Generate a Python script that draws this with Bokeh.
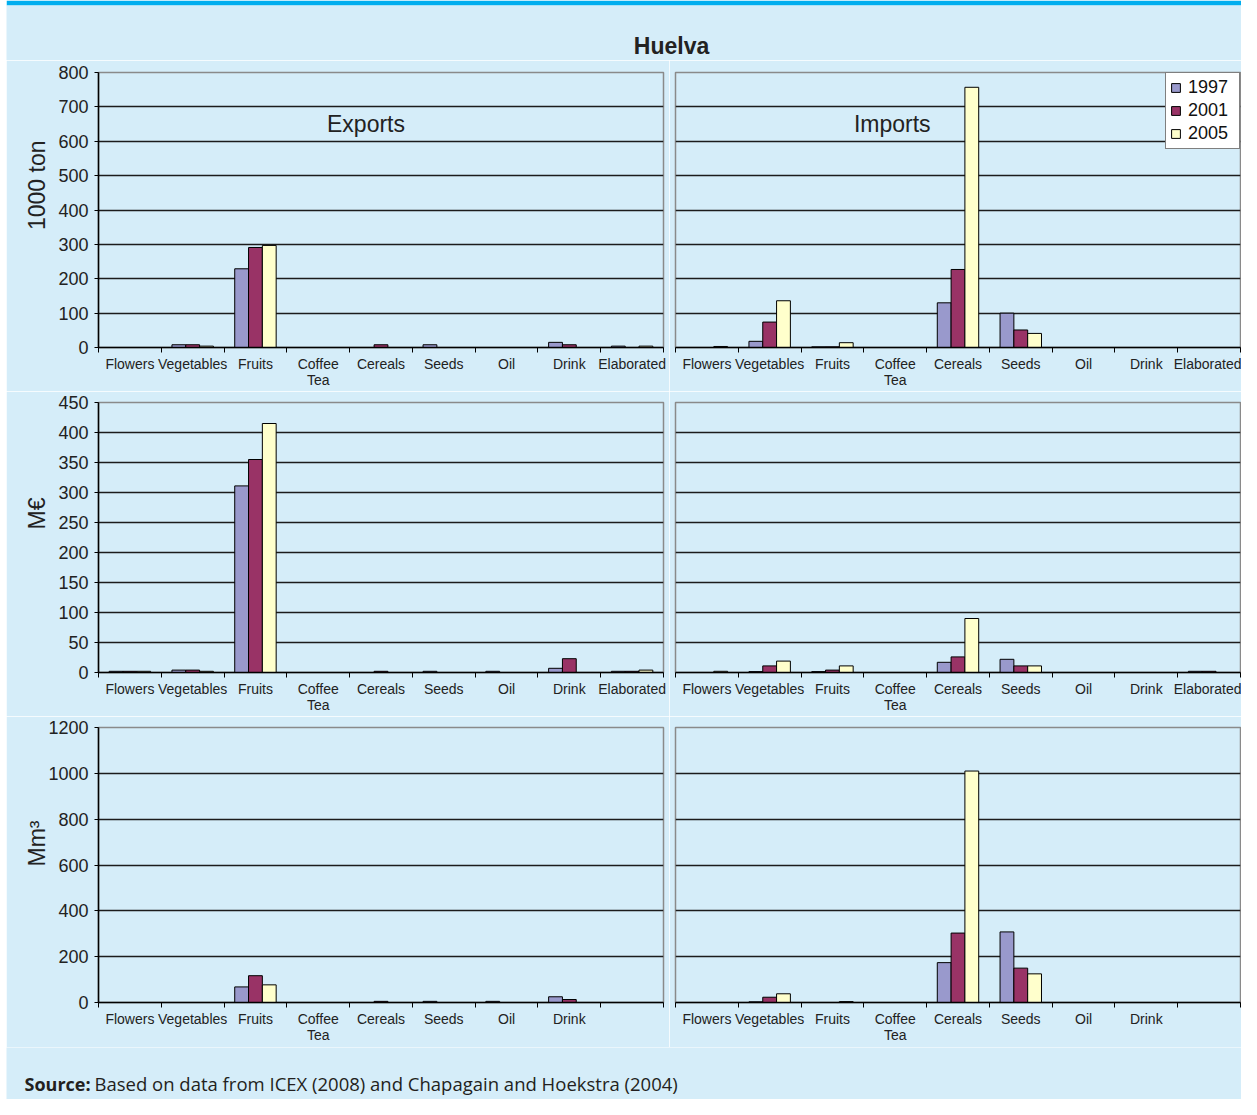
from bokeh.plotting import figure
from bokeh.models import ColumnDataSource, Range1d, LinearAxis, FixedTicker, Title, Spacer
from bokeh.transform import dodge
from bokeh.layouts import column, row
from bokeh.core.properties import value
from bokeh.embed import file_html
from bokeh.resources import INLINE

# ---------------- data ----------------
categories = ["Flowers", "Vegetables", "Fruits", "Coffee Tea", "Cereals",
              "Seeds", "Oil", "Drink", "Elaborated"]
water_categories = ["Flowers", "Vegetables", "Fruits", "Coffee Tea", "Cereals",
                    "Seeds", "Oil", "Drink"]
years = ["1997", "2001", "2005"]

# 1000 ton
exp_ton_1997 = [0, 8, 229, 0, 0, 8, 0, 15, 4]
exp_ton_2001 = [0, 8, 291, 0, 8, 0, 0, 8, 0]
exp_ton_2005 = [0, 4, 297, 0, 0, 0, 0, 0, 4]
imp_ton_1997 = [0, 18, 2, 0, 130, 100, 0, 0, 0]
imp_ton_2001 = [0, 74, 2, 0, 227, 51, 0, 0, 0]
imp_ton_2005 = [3, 136, 14, 0, 757, 41, 0, 0, 0]

# M EUR
exp_eur_1997 = [2, 4, 311, 0, 0, 2, 2, 7, 2]
exp_eur_2001 = [2, 4, 355, 0, 2, 0, 0, 23, 2]
exp_eur_2005 = [2, 2, 415, 0, 0, 0, 0, 0, 4]
imp_eur_1997 = [0, 1.5, 1.5, 0, 17, 22, 0, 0, 2]
imp_eur_2001 = [0, 11, 4, 0, 26, 11, 0, 0, 2]
imp_eur_2005 = [2, 19, 11, 0, 90, 11, 0, 0, 0]

# Mm3
exp_w_1997 = [0, 0, 68, 0, 0, 5, 5, 25]
exp_w_2001 = [0, 0, 117, 0, 5, 0, 0, 13]
exp_w_2005 = [0, 0, 77, 0, 0, 0, 0, 0]
imp_w_1997 = [0, 3, 0, 0, 174, 308, 0, 0]
imp_w_2001 = [0, 23, 0, 0, 303, 150, 0, 0]
imp_w_2005 = [0, 38, 4, 0, 1010, 125, 0, 0]

ticks_ton = [0, 100, 200, 300, 400, 500, 600, 700, 800]
ticks_eur = [0, 50, 100, 150, 200, 250, 300, 350, 400, 450]
ticks_w = [0, 200, 400, 600, 800, 1000, 1200]

# ---------------- style ----------------
BG = "#D5EDF9"
CYAN = "#00AEEF"
TXT = "#222222"
FONT = "Liberation Sans"
COLORS = ["#9999CC", "#993366", "#FFFFCC"]
BAR_W = 0.22
OFFSETS = [-BAR_W, 0.0, BAR_W]
N_SLOTS = len(categories)


def panel(cats, vals, yticks, side, top, bottom, fh=275, ylabel=None, ylabel_top=0,
          ylabel_standoff=6, title=None, title_cat=None, title_off=0, title_y=None,
          legend=False):
    left = side == "left"
    p = figure(x_range=Range1d(0, N_SLOTS), y_range=Range1d(yticks[0], yticks[-1]),
               frame_width=565, frame_height=fh,
               min_border_left=92 if left else 6, min_border_right=6 if left else 1,
               min_border_top=top, min_border_bottom=bottom,
               x_axis_location=None, y_axis_location=None,
               output_backend="svg", toolbar_location=None,
               background_fill_color=BG, border_fill_color=BG,
               outline_line_color="#8a8a8a", outline_line_width=1.5)
    p.xgrid.grid_line_color = None
    p.ygrid.ticker = FixedTicker(ticks=yticks[1:-1])
    p.ygrid.grid_line_color = "#1c1c1c"
    p.ygrid.grid_line_width = 1.5

    if left:
        yax = LinearAxis(ticker=FixedTicker(ticks=yticks),
                         major_label_text_font=FONT, major_label_text_font_size="18px",
                         major_label_text_color=TXT, major_label_standoff=6,
                         major_tick_in=0, major_tick_out=4, major_tick_line_color="black",
                         minor_tick_line_color=None,
                         axis_line_color="black", axis_line_width=1.5)
        p.add_layout(yax, "left")
        p.add_layout(Title(text=ylabel, align="right", offset=ylabel_top,
                           standoff=ylabel_standoff,
                           text_font=FONT, text_font_size="23px",
                           text_font_style="normal", text_color=TXT), "left")

    centers = [i + 0.5 for i in range(len(cats))]
    labels = {c: n.replace(" ", "\n") for c, n in zip(centers, cats)}
    xax = LinearAxis(ticker=FixedTicker(ticks=centers, minor_ticks=list(range(N_SLOTS + 1))),
                     axis_line_color="black", axis_line_width=1.5,
                     major_tick_line_color=None, major_tick_in=0, major_tick_out=2,
                     minor_tick_line_color="black", minor_tick_in=0, minor_tick_out=5,
                     major_label_standoff=3,
                     major_label_text_font=FONT, major_label_text_font_size="14px",
                     major_label_text_line_height=1.05,
                     major_label_text_color=TXT, major_label_overrides=labels)
    p.add_layout(xax, "below")

    data = {"x": centers}
    for yr, v in zip(years, vals):
        data["y" + yr] = v
    src = ColumnDataSource(data)
    for yr, off, col in zip(years, OFFSETS, COLORS):
        kw = dict(legend_label=yr) if legend else {}
        p.vbar(x=dodge("x", off), top="y" + yr, bottom=0, width=BAR_W,
               source=src, fill_color=col, line_color="black", line_width=1, **kw)

    if title:
        p.text(x=[categories.index(title_cat) + 0.5], y=[title_y], text=[title],
               x_offset=title_off, text_align="center", text_baseline="middle",
               text_font=value(FONT), text_font_size="23px", text_color=TXT)

    if legend:
        lg = p.legend[0]
        lg.location = "top_right"
        lg.margin = 0
        lg.border_line_color = "black"
        lg.border_line_width = 1
        lg.background_fill_color = "white"
        lg.background_fill_alpha = 1
        lg.label_text_font = FONT
        lg.label_text_font_size = "18px"
        lg.label_text_color = "#111111"
        lg.glyph_width = 11
        lg.glyph_height = 11
        lg.label_standoff = 7
        lg.label_width = 47
        lg.label_height = 20
        lg.padding = 4
        lg.spacing = 2
    return p


# ---------------- panels ----------------
p1 = panel(categories, [exp_ton_1997, exp_ton_2001, exp_ton_2005], ticks_ton, "left",
           top=12, bottom=42, ylabel="1000 ton", ylabel_top=68, ylabel_standoff=12,
           title="Exports", title_cat="Cereals", title_off=-15, title_y=650)
p2 = panel(categories, [imp_ton_1997, imp_ton_2001, imp_ton_2005], ticks_ton, "right",
           top=12, bottom=42, title="Imports", title_cat="Coffee Tea", title_off=-3,
           title_y=650, legend=True)
p3 = panel(categories, [exp_eur_1997, exp_eur_2001, exp_eur_2005], ticks_eur, "left",
           top=11, bottom=42, fh=270, ylabel="M€", ylabel_top=95, ylabel_standoff=12)
p4 = panel(categories, [imp_eur_1997, imp_eur_2001, imp_eur_2005], ticks_eur, "right",
           top=11, bottom=42, fh=270)
p5 = panel(water_categories, [exp_w_1997, exp_w_2001, exp_w_2005], ticks_w, "left",
           top=11, bottom=45, ylabel="Mm³", ylabel_top=93, ylabel_standoff=-8)
p6 = panel(water_categories, [imp_w_1997, imp_w_2001, imp_w_2005], ticks_w, "right",
           top=11, bottom=45)

# header
W = 1235
h = figure(width=W, height=60, x_range=Range1d(0, W), y_range=Range1d(0, 55),
           min_border_top=5, min_border_left=0, min_border_right=0, min_border_bottom=0,
           x_axis_location=None, y_axis_location=None, toolbar_location=None,
           output_backend="svg", background_fill_color=BG, border_fill_color=CYAN,
           outline_line_color=None)
h.grid.visible = False
h.text(x=[665], y=[15], text=["Huelva"], text_align="center", text_baseline="middle",
       text_font=value(FONT), text_font_style="bold", text_font_size="23px",
       text_color=TXT)

# footer
f = figure(width=W, height=52, x_range=Range1d(0, W), y_range=Range1d(0, 52),
           min_border=0, x_axis_location=None, y_axis_location=None,
           toolbar_location=None, output_backend="svg", background_fill_color=BG,
           border_fill_color=BG, outline_line_color=None)
f.grid.visible = False
f.text(x=[18], y=[16], text=["Source:"], text_align="left", text_baseline="middle",
       text_font=value("Open Sans"), text_font_style="bold", text_font_size="18px",
       text_color="#231F20")
f.text(x=[88], y=[16], text=["Based on data from ICEX (2008) and Chapagain and Hoekstra (2004)"],
       text_align="left", text_baseline="middle",
       text_font=value("Open Sans"), text_font_size="18.5px", text_color="#231F20")

body = column(h, row(p1, p2), row(p3, p4), row(p5, p6), f)
layout = row(Spacer(width=6, height=1099), body)

open("out.html", "w").write(file_html(layout, INLINE))
